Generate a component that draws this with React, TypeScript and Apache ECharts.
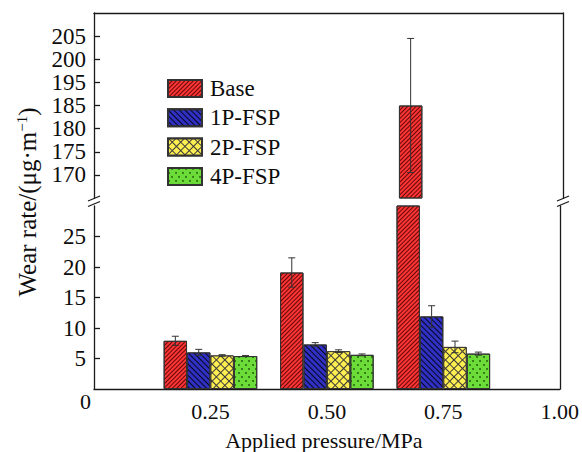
import React, { useEffect, useRef } from "react";
import * as echarts from "echarts";

const CATEGORIES = ["0", "0.25", "0.50", "0.75", "1.00"];
const SERIES_NAMES = ["Base", "1P-FSP", "2P-FSP", "4P-FSP"];
const BASE = [null, 7.9, 19.1, 185, null];
const P1 = [null, 6.0, 7.3, 11.9, null];
const P2 = [null, 5.5, 6.2, 6.9, null];
const P4 = [null, 5.4, 5.6, 5.8, null];
const BASE_ERR = [null, 0.75, 2.4, 14.5, null];
const P1_ERR = [null, 0.5, 0.3, 1.75, null];
const P2_ERR = [null, 0.12, 0.22, 0.95, null];
const P4_ERR = [null, 0.08, 0.15, 0.25, null];
const LOWER_TICKS = [5, 10, 15, 20, 25];
const UPPER_TICK_VALUES = [170, 175, 180, 185, 190, 195, 200];
const UPPER_TICK_LABELS = ["170", "175", "180", "185", "195", "200", "205"];
const LOWER_MIN = 0;
const LOWER_MAX = 30;
const UPPER_MIN = 165;
const UPPER_MAX = 205;

const VALUES = [BASE, P1, P2, P4];
const ERRORS = [BASE_ERR, P1_ERR, P2_ERR, P4_ERR];

const FONT = '"Liberation Serif", "Times New Roman", serif';
const BAR_W = 23.4;
const AXIS_COLOR = "#1a1a1a";
const TEXT_COLOR = "#0d0d0d";

const COLORS = ["#ff3535", "#3030c4", "#3a3a3a", "#6cdc38"];
const DECALS: any[] = [
  { symbol: "rect", symbolSize: 1, dashArrayX: [1, 0], dashArrayY: [1, 2], rotation: -Math.PI / 4, color: "rgba(70,0,0,0.85)" },
  { symbol: "rect", symbolSize: 1, dashArrayX: [1, 0], dashArrayY: [1, 2.2], rotation: Math.PI / 4, color: "rgba(0,0,0,0.85)" },
  { symbol: "rect", symbolSize: 1, dashArrayX: [4.6, 0.9], dashArrayY: [4.6, 0.9], rotation: Math.PI / 4, color: "#ffee50" },
  { symbol: "circle", symbolSize: 0.8, dashArrayX: [[1.5, 4.5], [0, 3, 1.5, 1.5]], dashArrayY: [1.5, 2], color: "rgba(10,50,0,0.85)" },
];

function axisLineOnly(gridIndex: number) {
  return {
    gridIndex,
    type: "value",
    position: "right",
    min: gridIndex === 0 ? UPPER_MIN : LOWER_MIN,
    max: gridIndex === 0 ? UPPER_MAX : LOWER_MAX,
    axisLine: { show: true, onZero: false, lineStyle: { color: AXIS_COLOR, width: 1.3 } },
    axisTick: { show: false },
    axisLabel: { show: false },
    splitLine: { show: false },
  };
}

function buildOption() {
  const bars: any[] = [];
  [1, 0].forEach((g) => {
    SERIES_NAMES.forEach((name, s) => {
      bars.push({
        type: "bar",
        name,
        xAxisIndex: g,
        yAxisIndex: g === 0 ? 0 : 2,
        barWidth: BAR_W,
        barGap: "0%",
        clip: true,
        itemStyle: { color: COLORS[s], borderColor: "#333", borderWidth: 1, decal: DECALS[s] },
        data: VALUES[s].map((v) => (v == null ? "-" : g === 0 ? (v > UPPER_MIN ? v : "-") : v)),
      });
    });
  });

  const errData = (g: number) => {
    const out: number[][] = [];
    VALUES.forEach((arr, s) => {
      arr.forEach((v, i) => {
        const e = ERRORS[s][i];
        if (v == null || e == null) return;
        if (g === 0 && v > UPPER_MIN) out.push([i, v, e, s]);
        if (g === 1 && v < LOWER_MAX) out.push([i, v, e, s]);
      });
    });
    return out;
  };

  const renderItem = (params: any, api: any) => {
    const i = api.value(0);
    const v = api.value(1);
    const e = api.value(2);
    const s = api.value(3);
    const off = (s - 1.5) * BAR_W;
    const top = api.coord([i, v + e]);
    const bot = api.coord([i, v - e]);
    const x = top[0] + off;
    const cap = 3.5;
    const style = { stroke: "#333", lineWidth: 1 };
    return {
      type: "group",
      children: [
        { type: "line", shape: { x1: x, y1: top[1], x2: x, y2: bot[1] }, style },
        { type: "line", shape: { x1: x - cap, y1: top[1], x2: x + cap, y2: top[1] }, style },
        { type: "line", shape: { x1: x - cap, y1: bot[1], x2: x + cap, y2: bot[1] }, style },
      ],
    };
  };

  const errSeries = [0, 1].map((g) => ({
    type: "custom",
    xAxisIndex: g,
    yAxisIndex: g === 0 ? 0 : 2,
    z: 5,
    silent: true,
    encode: { x: 0, y: 1 },
    renderItem,
    data: errData(g),
  }));

  const slash = (x: number, y: number) => ({
    type: "line",
    shape: { x1: x - 6, y1: y + 2.5, x2: x + 6, y2: y - 2.5 },
    style: { stroke: AXIS_COLOR, lineWidth: 1.3 },
    silent: true,
  });

  return {
    animation: false,
    backgroundColor: "#ffffff",
    grid: [
      { left: 94, right: 19, top: 13, height: 185 },
      { left: 94, right: 19, top: 206, height: 184 },
    ],
    legend: {
      orient: "vertical",
      left: 167,
      top: 77,
      padding: 0,
      itemWidth: 34,
      itemHeight: 17,
      itemGap: 6.3,
      icon: "rect",
      data: SERIES_NAMES,
      selectedMode: false,
      textStyle: { fontFamily: FONT, fontSize: 23, color: TEXT_COLOR, lineHeight: 17, padding: [0, 0, 0, 3] },
    },
    xAxis: [
      {
        gridIndex: 0,
        type: "category",
        data: CATEGORIES,
        boundaryGap: false,
        position: "top",
        axisLine: { show: true, onZero: false, lineStyle: { color: AXIS_COLOR, width: 1.3 } },
        axisTick: { show: false },
        axisLabel: { show: false },
        splitLine: { show: false },
      },
      {
        gridIndex: 1,
        type: "category",
        data: CATEGORIES,
        boundaryGap: false,
        position: "bottom",
        name: "Applied pressure/MPa",
        nameLocation: "middle",
        nameGap: 40,
        nameTextStyle: { fontFamily: FONT, fontSize: 22, color: TEXT_COLOR, padding: [0, 6, 0, 0] },
        axisLine: { show: true, onZero: false, lineStyle: { color: AXIS_COLOR, width: 1.3 } },
        axisTick: { show: false },
        axisLabel: {
          fontFamily: FONT,
          fontSize: 22,
          color: TEXT_COLOR,
          margin: 11,
          formatter: (v: string, idx: number) => (idx === 0 ? "{z|" + v + "}" : v),
          rich: { z: { fontFamily: FONT, fontSize: 22, color: TEXT_COLOR, lineHeight: 2, padding: [0, 17, 0, 0] } },
        },
        splitLine: { show: false },
      },
    ],
    yAxis: [
      {
        gridIndex: 0,
        type: "value",
        min: UPPER_MIN,
        max: UPPER_MAX,
        interval: 5,
        axisLine: { show: true, onZero: false, lineStyle: { color: AXIS_COLOR, width: 1.3 } },
        axisTick: { show: true, inside: true, length: 6, customValues: UPPER_TICK_VALUES, lineStyle: { color: AXIS_COLOR, width: 1.3 } },
        axisLabel: {
          customValues: UPPER_TICK_VALUES,
          fontFamily: FONT,
          fontSize: 23,
          color: TEXT_COLOR,
          margin: 8,
          formatter: (v: number) => {
            const k = UPPER_TICK_VALUES.indexOf(v);
            return k >= 0 ? UPPER_TICK_LABELS[k] : "";
          },
        },
        splitLine: { show: false },
      },
      axisLineOnly(0),
      {
        gridIndex: 1,
        type: "value",
        min: LOWER_MIN,
        max: LOWER_MAX,
        interval: 5,
        axisLine: { show: true, onZero: false, lineStyle: { color: AXIS_COLOR, width: 1.3 } },
        axisTick: { show: true, inside: true, length: 6, customValues: LOWER_TICKS, lineStyle: { color: AXIS_COLOR, width: 1.3 } },
        axisLabel: {
          customValues: LOWER_TICKS,
          fontFamily: FONT,
          fontSize: 23,
          color: TEXT_COLOR,
          margin: 8,
        },
        splitLine: { show: false },
      },
      axisLineOnly(1),
    ],
    graphic: [
      {
        type: "text",
        x: 27,
        y: 202,
        rotation: Math.PI / 2,
        silent: true,
        style: {
          text: "Wear rate/(μg·m{sup|−1})",
          fontFamily: FONT,
          fontSize: 25,
          fill: TEXT_COLOR,
          align: "center",
          verticalAlign: "middle",
          rich: { sup: { fontFamily: FONT, fontSize: 15, fill: TEXT_COLOR, verticalAlign: "top", padding: [0, 0, 9, 0] } },
        },
      },
      slash(94, 198.5),
      slash(94, 204),
      slash(563, 198.5),
      slash(563, 204),
    ],
    series: [...bars, ...errSeries],
  };
}

export default function App() {
  const ref = useRef<HTMLDivElement>(null);
  useEffect(() => {
    if (!ref.current) return;
    const chart = echarts.init(ref.current, undefined, { renderer: "svg" });
    chart.setOption(buildOption() as any);
    return () => chart.dispose();
  }, []);
  return (
    <div
      ref={ref}
      style={{ position: "fixed", left: 0, top: 0, width: 582, height: 452, background: "#fff" }}
    />
  );
}
